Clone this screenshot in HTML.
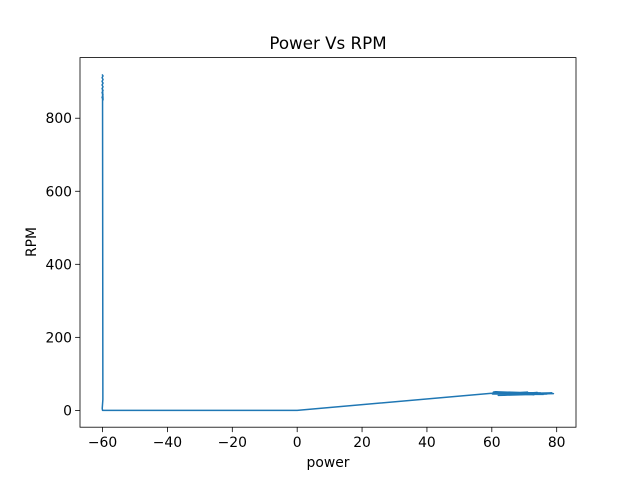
<!DOCTYPE html>
<html><head><meta charset="utf-8"><style>
body{margin:0;background:#fff;font-family:"Liberation Sans","DejaVu Sans",sans-serif}
</style></head><body>
<svg id="chart" width="640" height="480" xmlns="http://www.w3.org/2000/svg">
<rect width="640" height="480" fill="#fff"/>
<text x="328" y="49" font-size="16.7" text-anchor="middle" font-family="DejaVu Sans, sans-serif">Power Vs RPM</text>
<g id="plot"></g>
<rect x="80" y="57.6" width="496" height="369.6" fill="none" stroke="#000" stroke-width="0.8"/>
<g id="ticks" font-size="13.9" font-family="DejaVu Sans, sans-serif"></g>
<text x="328" y="467" font-size="13.9" text-anchor="middle" font-family="DejaVu Sans, sans-serif">power</text>
<text x="36" y="242" font-size="13.9" text-anchor="middle" font-family="DejaVu Sans, sans-serif" transform="rotate(-90 36 242)">RPM</text>
</svg>
<script>
const power = [-60.15,-59.85,-60.15,-59.85,-60.15,-59.85,-60.15,-59.85,-60.15,-59.85,-60.15,-59.85,-60.15,-59.85,-60,-59.9,-60.1,-60,0,60,62,75,64,78,61,70,66,79,63,72,60.5,77,62,74,65,76,61,73,67,78.5,64,71,60.2,76];
const rpm = [920,916,911,906,901,896,891,886,881,876,870,864,857,850,880,30,5,0,0,47,50,48,42,46,49,44,47,46,43,48,50,45,41,49,44,47,51,43,46,48,42,50,45,44];
const xTicks = [-60,-40,-20,0,20,40,60,80];
const yTicks = [0,200,400,600,800];
const NS='http://www.w3.org/2000/svg';
const xmin=-66.95,xmax=85.95,ymin=-46,ymax=966;
const L=80,R=576,T=57.6,B=427.2;
const sx=v=>L+(v-xmin)/(xmax-xmin)*(R-L);
const sy=v=>B-(v-ymin)/(ymax-ymin)*(B-T);
const plot=document.getElementById('plot');
const line=document.createElementNS(NS,'polyline');
line.setAttribute('points',power.map((p,i)=>sx(p)+','+sy(rpm[i])).join(' '));
line.setAttribute('fill','none');line.setAttribute('stroke','#1f77b4');line.setAttribute('stroke-width','1.5');line.setAttribute('stroke-linejoin','round');


plot.appendChild(line);
const tg=document.getElementById('ticks');
xTicks.forEach(t=>{
  const x=sx(t);
  const l=document.createElementNS(NS,'line');
  l.setAttribute('x1',x);l.setAttribute('x2',x);l.setAttribute('y1',B);l.setAttribute('y2',B+4.9);l.setAttribute('stroke','#000');l.setAttribute('stroke-width','0.8');
  
  
  tg.appendChild(l);
  const tx=document.createElementNS(NS,'text');
  tx.setAttribute('x',x);tx.setAttribute('y',B+20);tx.setAttribute('text-anchor','middle');
  tx.textContent=t<0?'\u2212'+(-t):t;
  
  
  tg.appendChild(tx);
});
yTicks.forEach(t=>{
  const y=sy(t);
  const l=document.createElementNS(NS,'line');
  l.setAttribute('x1',L-4.9);l.setAttribute('x2',L);l.setAttribute('y1',y);l.setAttribute('y2',y);l.setAttribute('stroke','#000');l.setAttribute('stroke-width','0.8');
  
  
  tg.appendChild(l);
  const tx=document.createElementNS(NS,'text');
  tx.setAttribute('x',L-8);tx.setAttribute('y',y+5);tx.setAttribute('text-anchor','end');
  tx.textContent=t;
  
  
  tg.appendChild(tx);
});
</script>
</body></html>
